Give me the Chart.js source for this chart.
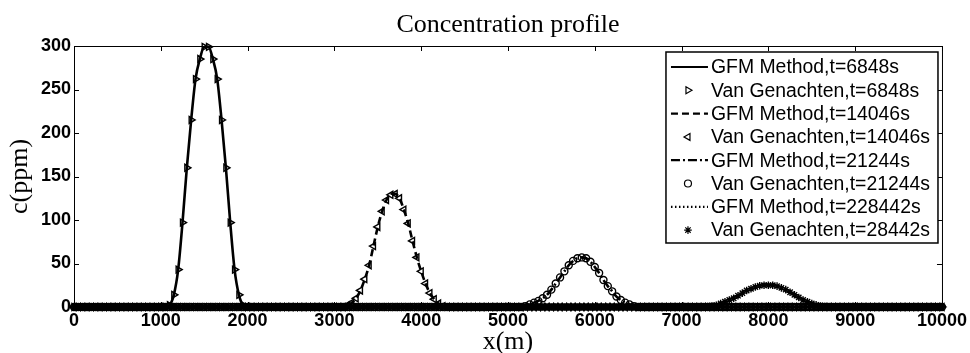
<!DOCTYPE html>
<html lang="en">
<head>
<meta charset="UTF-8">
<title>Concentration profile</title>
<script src="https://cdn.jsdelivr.net/npm/chart.js"></script>
<style>
    html, body { margin: 0; padding: 0; background: #fff; }
    .chart-box { position: relative; width: 970px; height: 353px; }
</style>
</head>
<body>
<div class="chart-box"><canvas id="chart" width="970" height="353"></canvas></div>
<script>
// sampling grid of the profile (m)
const xMin = 0, xMax = 10000, xStep = 50;
const xTicks = [0, 1000, 2000, 3000, 4000, 5000, 6000, 7000, 8000, 9000, 10000];
const yTicks = [0, 50, 100, 150, 200, 250, 300];
const chartTitle = 'Concentration profile';

// concentration (ppm) of each plume, every 50 m from its start x; zero everywhere else
const plume6848Start = 1050;
const plume6848 = [0, 2, 14, 43, 97, 160, 215, 262, 285, 299, 299, 285, 262, 215, 160, 97, 43, 14, 2, 0];
const plume14046Start = 3150;
const plume14046 = [2, 5, 10, 19, 32, 48, 70, 92, 110, 123, 129, 130, 125, 112, 96, 76, 57, 41, 27, 16, 9, 4, 1];
const plume21244Start = 5200;
const plume21244 = [1, 3, 5, 7, 10, 14, 20, 27, 34, 41, 48, 53, 56, 57, 56, 52, 46, 39, 31, 24, 18, 12, 8, 5, 3, 1];
const plume28442Start = 7300;
const plume28442 = [0.5, 1, 2, 4, 6, 8, 10, 13, 16, 19, 21, 23, 24.5, 25, 25, 25, 24, 22, 20, 17, 14, 11, 8, 6, 4, 2.5, 1, 0.5];

const seriesLabels = [
    'GFM Method,t=6848s', 'Van Genachten,t=6848s',
    'GFM Method,t=14046s', 'Van Genachten,t=14046s',
    'GFM Method,t=21244s', 'Van Genachten,t=21244s',
    'GFM Method,t=228442s', 'Van Genachten,t=28442s'
];

const xGrid = [];
for (let x = xMin; x <= xMax; x += xStep) xGrid.push(x);

function profile(start, values) {
    return xGrid.map(x => {
        const i = Math.round((x - start) / xStep);
        return { x: x, y: (i >= 0 && i < values.length) ? values[i] : 0 };
    });
}

const plumes = [
    profile(plume6848Start, plume6848),
    profile(plume14046Start, plume14046),
    profile(plume21244Start, plume21244),
    profile(plume28442Start, plume28442)
];
const dashes = [[], [7, 4], [9, 3, 2, 3], [1.5, 2.5]];
const markers = [
    { style: 'triangle', rotation: 90, radius: 4 },
    { style: 'triangle', rotation: -90, radius: 4 },
    { style: 'circle', rotation: 0, radius: 3.5 },
    { style: 'star', rotation: 0, radius: 3.8 }
];

const datasets = [];
plumes.forEach((data, k) => {
    datasets.push({
        label: seriesLabels[2 * k],
        data: data,
        borderColor: '#000',
        borderWidth: 2.6,
        borderDash: dashes[k],
        pointRadius: 0,
        cubicInterpolationMode: 'monotone',
        fill: false,
        clip: false
    });
    datasets.push({
        label: seriesLabels[2 * k + 1],
        data: data,
        showLine: false,
        pointStyle: markers[k].style,
        rotation: markers[k].rotation,
        pointRadius: markers[k].radius,
        pointBorderWidth: 1.4,
        pointBorderColor: '#000',
        pointBackgroundColor: 'rgba(0,0,0,0)',
        clip: false
    });
});

const serif = '"Liberation Serif", "Times New Roman", serif';

// title, box, inward ticks and the legend drawn matlab style
const matlabFrame = {
    id: 'matlabFrame',
    beforeDatasetsDraw(chart) {
        const { ctx, chartArea: a, scales } = chart;
        ctx.save();
        ctx.fillStyle = '#000';
        ctx.font = '26px ' + serif;
        ctx.textAlign = 'center';
        ctx.textBaseline = 'alphabetic';
        ctx.fillText(chartTitle, (a.left + a.right) / 2, a.top - 14);

        ctx.strokeStyle = '#000';
        ctx.lineWidth = 1;
        ctx.strokeRect(a.left + 0.5, a.top + 0.5, a.right - a.left, a.bottom - a.top);
        ctx.beginPath();
        xTicks.forEach(v => {
            const px = Math.round(scales.x.getPixelForValue(v)) + 0.5;
            ctx.moveTo(px, a.bottom); ctx.lineTo(px, a.bottom - 5);
            ctx.moveTo(px, a.top); ctx.lineTo(px, a.top + 5);
        });
        yTicks.forEach(v => {
            const py = Math.round(scales.y.getPixelForValue(v)) + 0.5;
            ctx.moveTo(a.left, py); ctx.lineTo(a.left + 5, py);
            ctx.moveTo(a.right, py); ctx.lineTo(a.right - 5, py);
        });
        ctx.stroke();
        ctx.restore();
    },
    afterDraw(chart) {
        const { ctx, chartArea: a } = chart;
        const right = a.right - 4, top = a.top + 6;
        const left = right - 272, rowH = 23.3;
        const bottom = top + 191;
        ctx.save();
        ctx.fillStyle = '#fff';
        ctx.fillRect(left, top, right - left, bottom - top);
        ctx.strokeStyle = '#000';
        ctx.lineWidth = 1.5;
        ctx.strokeRect(left, top, right - left, bottom - top);
        ctx.font = '19.4px "Liberation Sans", Arial, sans-serif';
        ctx.textBaseline = 'middle';
        chart.data.datasets.forEach((ds, i) => {
            const y = top + 15 + i * rowH;
            ctx.strokeStyle = '#000';
            if (ds.showLine === false) {
                ctx.lineWidth = 1.2;
                ctx.fillStyle = 'rgba(0,0,0,0)';
                Chart.helpers.drawPoint(ctx, {
                    pointStyle: ds.pointStyle, rotation: ds.rotation,
                    radius: ds.pointRadius, borderWidth: 1.2
                }, left + 22, y);
            } else {
                ctx.lineWidth = 2.2;
                ctx.setLineDash(ds.borderDash);
                ctx.beginPath();
                ctx.moveTo(left + 5, y);
                ctx.lineTo(left + 42, y);
                ctx.stroke();
                ctx.setLineDash([]);
            }
            ctx.fillStyle = '#000';
            ctx.fillText(ds.label, left + 45, y + 1);
        });
        ctx.restore();
    }
};

const tickFont = { family: '"Liberation Sans", Arial, sans-serif', size: 18, weight: 'bold' };

new Chart(document.getElementById('chart').getContext('2d'), {
    type: 'line',
    data: { datasets: datasets },
    options: {
        responsive: false,
        animation: false,
        devicePixelRatio: 1,
        layout: { padding: { top: 46, right: 26, bottom: 0, left: 0 } },
        plugins: {
            legend: { display: false },
            tooltip: { enabled: false },
            title: { display: false }
        },
        scales: {
            x: {
                type: 'linear',
                min: xMin,
                max: xMax,
                afterBuildTicks: s => { s.ticks = xTicks.map(v => ({ value: v })); },
                afterFit: s => { s.height = 46; },
                grid: { display: false, drawTicks: false },
                border: { display: false },
                ticks: {
                    color: '#000', font: tickFont, padding: 3, maxRotation: 0, autoSkip: false,
                    callback: v => String(v)
                },
                title: {
                    display: true, text: 'x(m)', color: '#000', padding: 0,
                    font: { family: serif, size: 26, weight: 'normal', lineHeight: 0.85 }
                }
            },
            y: {
                min: 0,
                max: 300,
                afterBuildTicks: s => { s.ticks = yTicks.map(v => ({ value: v })); },
                afterFit: s => { s.width = 74; },
                grid: { display: false, drawTicks: false },
                border: { display: false },
                ticks: { color: '#000', font: tickFont, padding: 3, callback: v => String(v) },
                title: {
                    display: true, text: 'c(ppm)', color: '#000', padding: { top: 5, bottom: 0 },
                    font: { family: serif, size: 26, weight: 'normal', lineHeight: 1.2 }
                }
            }
        }
    },
    plugins: [matlabFrame]
});
</script>
</body>
</html>
